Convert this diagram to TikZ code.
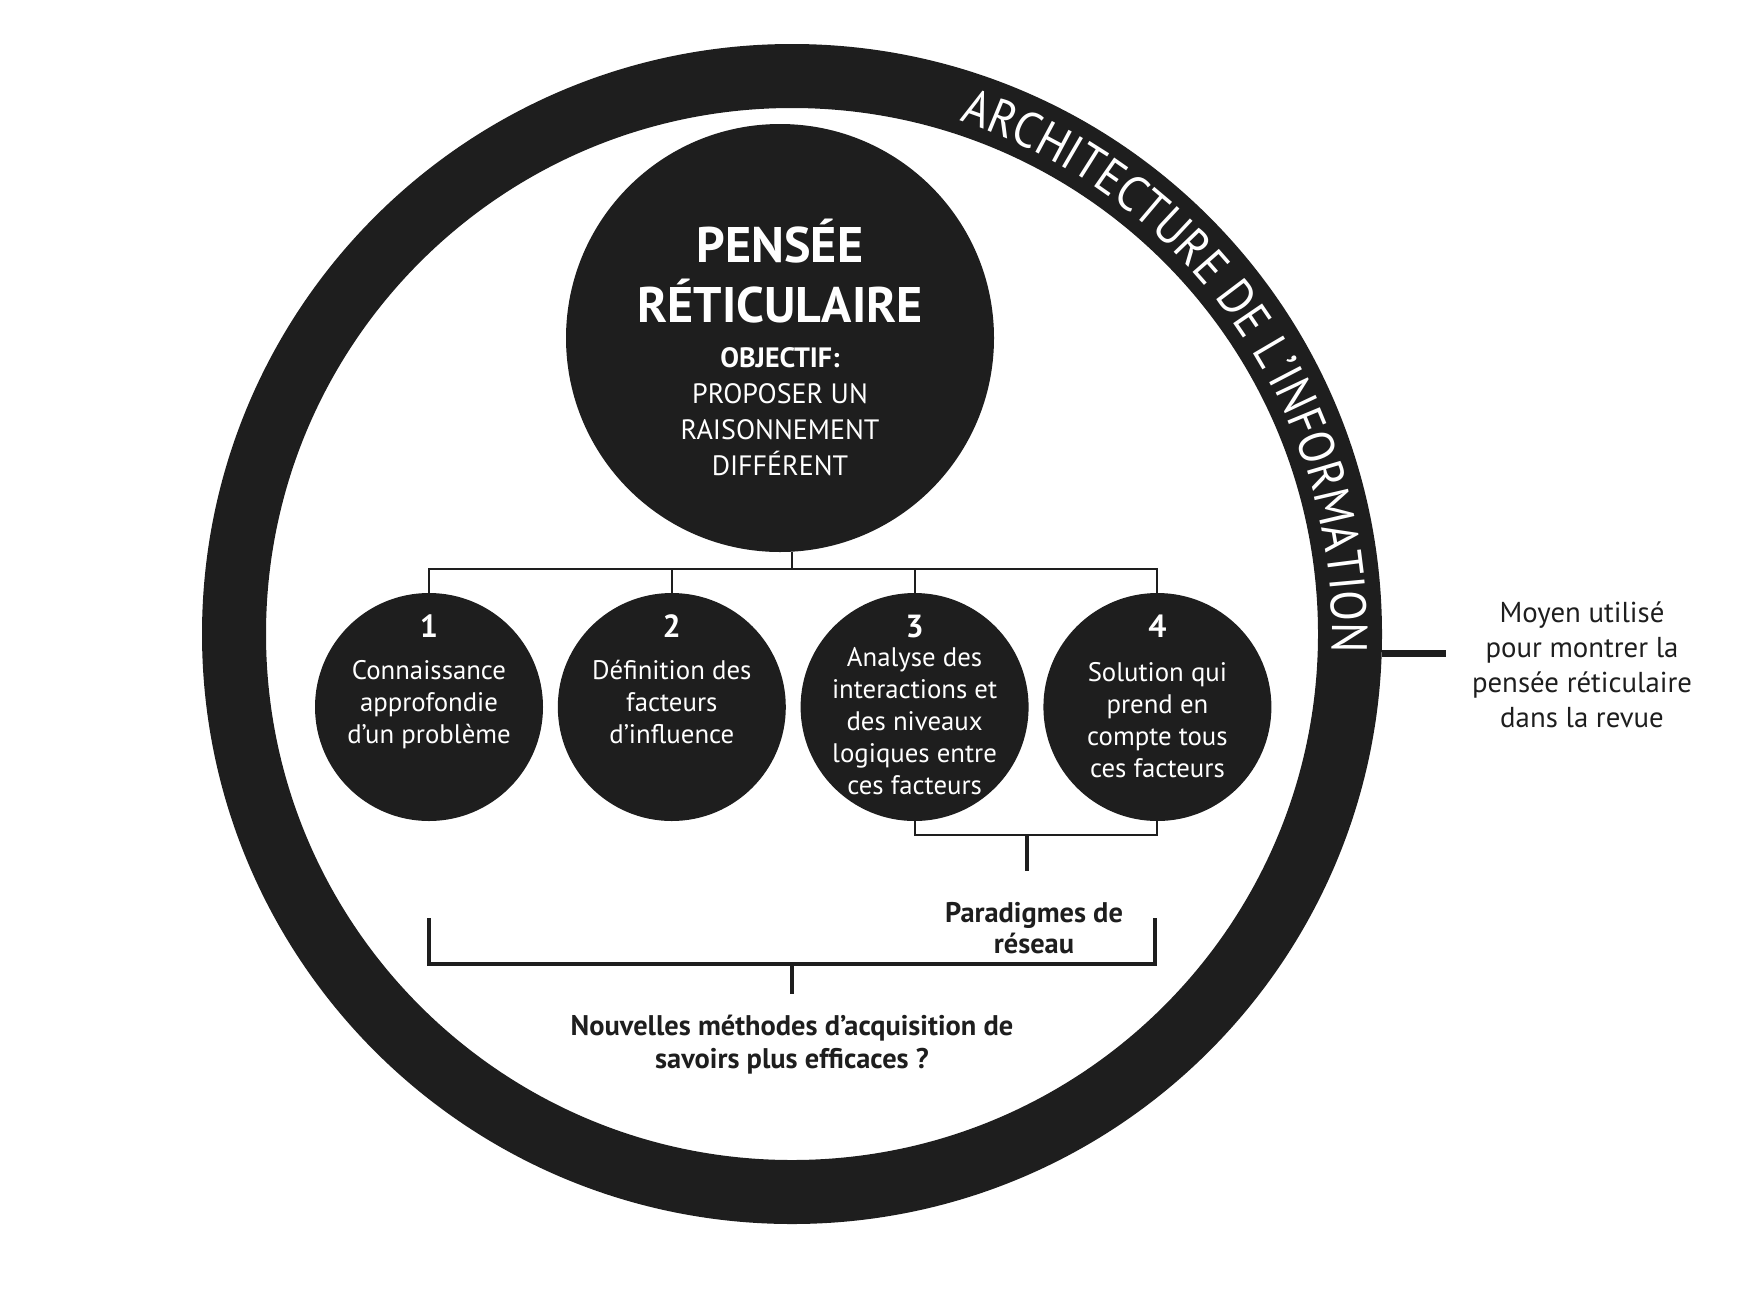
\documentclass[tikz,border=0pt]{standalone}
\usepackage{fontspec}
\setmainfont{PT Sans}
\newfontfamily\ringfont[FakeStretch=0.9]{PT Sans}
\usetikzlibrary{decorations.text}
\definecolor{ink}{RGB}{30,30,30}

\begin{document}
\begin{tikzpicture}[x=0.5pt,y=0.5pt]

\tikzstyle{ringnode}=[circle,draw=ink,line width=32pt,inner sep=0pt,minimum size=558pt]
\tikzstyle{bignode}=[circle,fill=ink,inner sep=0pt,minimum size=214pt]
\tikzstyle{stepnode}=[circle,fill=ink,inner sep=0pt,minimum size=114pt]
\tikzstyle{numtext}=[anchor=base,inner sep=0pt,text=white,font=\fontsize{16}{18}\selectfont\bfseries]
\tikzstyle{steptext}=[anchor=base,inner sep=0pt,align=center,text=white,font=\fontsize{13.4}{16}\selectfont]
\tikzstyle{boldtext}=[anchor=base,inner sep=0pt,align=center,text=ink,font=\fontsize{14.2}{16}\selectfont\bfseries]
\tikzstyle{treeline}=[draw=ink,line width=1pt]
\tikzstyle{stemline}=[draw=ink,line width=2pt]

\useasboundingbox (0,0) rectangle (1754,-1296);

\begin{scope}[]

\node [ringnode] (ring) at (792,-634){};
\node [bignode] (think) at (780,-338){};
\node [stepnode] (c1) at (429,-707){};
\node [anchor=west,stepnode] (c2) at ([xshift=7pt]c1.east){};
\node [anchor=west,stepnode] (c3) at ([xshift=7pt]c2.east){};
\node [anchor=west,stepnode] (c4) at ([xshift=7pt]c3.east){};

\node [anchor=base,inner sep=0pt,align=center,text=white,font=\fontsize{25}{30}\selectfont\bfseries] (title) at ([yshift=8pt]think.center){PENS\'EE\\R\'ETICULAIRE};
\node [anchor=base,inner sep=0pt,align=center,text=white,font=\fontsize{14}{18}\selectfont] (goal) at ([yshift=-68.5pt]think.center){\textbf{OBJECTIF:}\\PROPOSER UN\\RAISONNEMENT\\DIFF\'ERENT};

\node [numtext] (n1) at ([yshift=35pt]c1.center){1};
\node [numtext] (n2) at ([yshift=35pt]c2.center){2};
\node [numtext] (n3) at ([yshift=35pt]c3.center){3};
\node [numtext] (n4) at ([yshift=35pt]c4.center){4};
\node [steptext] (t1) at ([yshift=-18pt]c1.center){Connaissance\\approfondie\\d'un probl\`eme};
\node [steptext] (t2) at ([yshift=-18pt]c2.center){D\'efinition des\\facteurs\\d'influence};
\node [steptext] (t3) at ([yshift=-43.5pt]c3.center){Analyse des\\interactions et\\des niveaux\\logiques entre\\ces facteurs};
\node [steptext] (t4) at ([yshift=-35pt]c4.center){Solution qui\\prend en\\compte tous\\ces facteurs};

\node [anchor=base,inner sep=0pt,align=center,text=ink,font=\fontsize{14.4}{17.5}\selectfont] (means) at (1582,-727){Moyen utilis\'e\\pour montrer la\\pens\'ee r\'eticulaire\\dans la revue};
\node [boldtext,font=\fontsize{14.2}{15.5}\selectfont\bfseries] (para) at (1034,-953){Paradigmes de\\r\'eseau};
\node [boldtext,font=\fontsize{14.2}{16.5}\selectfont\bfseries] (newm) at (792,-1068){Nouvelles m\'ethodes d’acquisition de\\savoirs plus efficaces ?};

\coordinate (hub) at (792,-569);
\coordinate (pj) at (1027,-835);
\coordinate (pe) at (1027,-871);
\coordinate (bl) at (429,-918);
\coordinate (br) at (1155,-918);
\coordinate (bm) at (792,-964);
\coordinate (be) at (792,-994);
\coordinate (tip) at (1446,-653);

\draw[treeline] (hub |- think.south)--(hub);
\draw[treeline] (c1.north)|-(hub)-|(c4.north);
\draw[treeline] (c2.north)--(c2.north |- hub);
\draw[treeline] (c3.north)--(c3.north |- hub);
\draw[treeline] (c3.south)|-(pj)-|(c4.south);
\draw[stemline] (pj)--(pe);
\draw[stemline] (bl)|-(bm)-|(br);
\draw[stemline] (bm)--(be);
\draw[ink,line width=3.5pt] (ring.east |- tip)--(tip);

\path[decorate,decoration={text along path,text color=white,text align=center,
  text={|\ringfont\fontsize{25}{30}\selectfont|ARCHITECTURE DE L’INFORMATION}}]
  ([shift={(100:270pt)}]ring.center) arc[start angle=100,end angle=-30,radius=270pt];

\end{scope}
\end{tikzpicture}
\end{document}
